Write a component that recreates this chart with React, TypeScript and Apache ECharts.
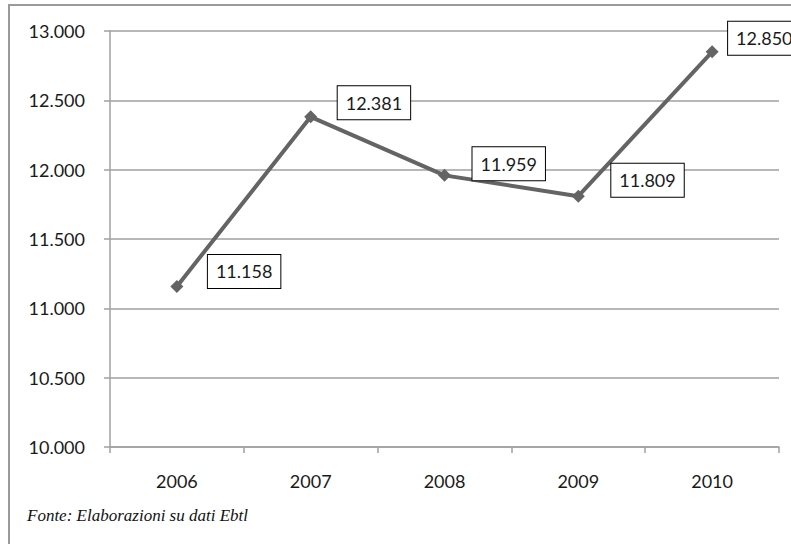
import React, { useEffect, useRef } from "react";
import * as echarts from "echarts";

const years = ["2006", "2007", "2008", "2009", "2010"];
const values = [11158, 12381, 11959, 11809, 12850];
const sourceNote = "Fonte: Elaborazioni su dati Ebtl";

// label placement (layout only)
const labelDistance = [24.5, 20.5, 21.5, 26.5, 9.5];
const labelOffsetY = [-15, -14, -11.5, -16, -13.5];

const fmt = (v: number) => {
  const s = Math.round(v).toString();
  return s.replace(/\B(?=(\d{3})+(?!\d))/g, ".");
};

export default function App() {
  const ref = useRef<HTMLDivElement>(null);
  useEffect(() => {
    if (!ref.current) return;
    const chart = echarts.init(ref.current, null, { renderer: "svg" });
    const font = "Lato, 'Open Sans', sans-serif";
    chart.setOption({
      animation: false,
      backgroundColor: "#ffffff",
      grid: { left: 110, right: 12, top: 31, bottom: 97, containLabel: false },
      xAxis: {
        type: "category",
        data: years,
        boundaryGap: true,
        axisLine: { lineStyle: { color: "#a0a0a0", width: 1.5 } },
        axisTick: { show: true, length: 6, lineStyle: { color: "#a0a0a0", width: 1.5 } },
        axisLabel: { color: "#1a1a1a", fontSize: 18, fontFamily: font, margin: 25 },
        splitLine: { show: false },
      },
      yAxis: {
        type: "value",
        min: 10000,
        max: 13000,
        interval: 500,
        axisLine: { show: true, lineStyle: { color: "#a0a0a0", width: 1.5 } },
        axisTick: { show: true, length: 6, lineStyle: { color: "#a0a0a0", width: 1.5 } },
        axisLabel: {
          color: "#1a1a1a",
          fontSize: 18,
          fontFamily: font,
          margin: 25,
          formatter: (v: number) => fmt(v),
        },
        splitLine: { show: true, lineStyle: { color: "#a0a0a0", width: 1.5 } },
      },
      series: [
        {
          type: "line",
          data: values.map((v, i) => ({
            value: v,
            label: { distance: labelDistance[i], offset: [0, labelOffsetY[i]] },
          })),
          symbol: "diamond",
          symbolSize: 13,
          itemStyle: { color: "#646464" },
          lineStyle: { color: "#646464", width: 4 },
          label: {
            show: true,
            position: "right",
            formatter: (p: any) => fmt(p.value),
            color: "#1a1a1a",
            fontSize: 18,
            lineHeight: 20,
            fontFamily: font,
            backgroundColor: "#ffffff",
            borderColor: "#000000",
            borderWidth: 1,
            padding: [7, 8, 6, 8],
          },
        },
      ],
      graphic: [
        {
          type: "rect",
          shape: { x: 9, y: 5, width: 900, height: 900 },
          style: { fill: "none", stroke: "#9a9a9a", lineWidth: 2 },
          silent: true,
          z: -1,
        },
        {
          type: "text",
          left: 27,
          top: 507,
          style: {
            text: sourceNote,
            fill: "#111",
            font: "italic 17px 'Liberation Serif', 'DejaVu Serif', serif",
          },
        },
      ],
    });
    return () => chart.dispose();
  }, []);
  return (
    <div
      ref={ref}
      style={{ position: "absolute", left: 0, top: 0, width: 791, height: 544 }}
    />
  );
}
